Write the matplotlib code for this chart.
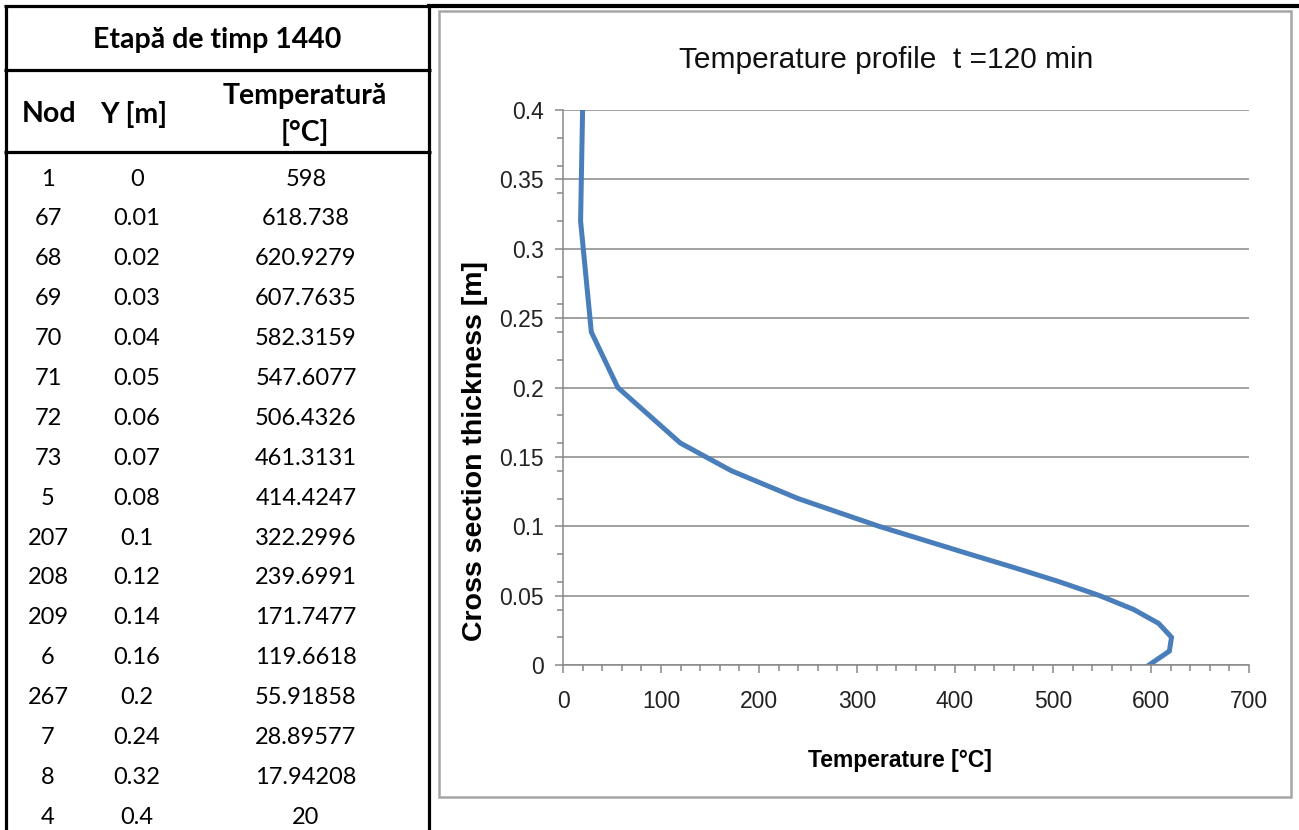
import matplotlib
matplotlib.use("Agg")
from matplotlib import pyplot as plt
from matplotlib.lines import Line2D
from matplotlib.patches import Rectangle
from matplotlib.ticker import MultipleLocator

# results at time step 1440
nodes = ["1", "67", "68", "69", "70", "71", "72", "73", "5", "207", "208", "209",
         "6", "267", "7", "8", "4"]
y_labels = ["0", "0.01", "0.02", "0.03", "0.04", "0.05", "0.06", "0.07", "0.08",
            "0.1", "0.12", "0.14", "0.16", "0.2", "0.24", "0.32", "0.4"]
temp_labels = ["598", "618.738", "620.9279", "607.7635", "582.3159", "547.6077",
               "506.4326", "461.3131", "414.4247", "322.2996", "239.6991",
               "171.7477", "119.6618", "55.91858", "28.89577", "17.94208", "20"]
y_m = [float(v) for v in y_labels]
temp_c = [float(v) for v in temp_labels]

W, H = 1299, 830
fig = plt.figure(figsize=(W / 100, H / 100), dpi=100)


def fx(px):
    return px / W


def fy(py):
    return 1 - py / H


def hline(x0, x1, y, color="black", lw=2.3):
    fig.add_artist(Line2D([fx(x0), fx(x1)], [fy(y), fy(y)], color=color, lw=lw,
                          solid_capstyle="butt"))


def vline(x, y0, y1, color="black", lw=2.3):
    fig.add_artist(Line2D([fx(x), fx(x)], [fy(y0), fy(y1)], color=color, lw=lw,
                          solid_capstyle="butt"))


# ---- table on the left ----
tfont = ["Lato", "DejaVu Sans"]
hline(4, 431, 6.5)
hline(4, 431, 70)
hline(4, 431, 152)
vline(6, 5, 830)
vline(429, 5, 830)

fig.text(fx(217), fy(40), "Etapă de timp 1440", family=tfont, fontweight="bold",
         fontsize=20.5, ha="center", va="center")
fig.text(fx(49), fy(114), "Nod", family=tfont, fontweight="bold", fontsize=20.5,
         ha="center", va="center")
fig.text(fx(134), fy(114), "Y [m]", family=tfont, fontweight="bold", fontsize=20.5,
         ha="center", va="center")
fig.text(fx(305), fy(96), "Temperatură", family=tfont, fontweight="bold",
         fontsize=20.5, ha="center", va="center")
fig.text(fx(305), fy(132), "[°C]", family=tfont, fontweight="bold", fontsize=20.5,
         ha="center", va="center")

for i, (n, yv, tv) in enumerate(zip(nodes, y_labels, temp_labels)):
    yy = 179 + i * 39.9
    fig.text(fx(48), fy(yy), n, family=tfont, fontsize=17, ha="center", va="center")
    fig.text(fx(137), fy(yy), yv, family=tfont, fontsize=17, ha="center", va="center")
    fig.text(fx(306), fy(yy), tv, family=tfont, fontsize=17, ha="center", va="center")

# ---- chart on the right ----
hline(427, 1299, 6.5, lw=3)
fig.add_artist(Rectangle((fx(439), fy(797)), fx(1291 - 439), (797 - 11) / H,
                         transform=fig.transFigure, fill=False,
                         edgecolor="#a6a6a6", lw=1.8))

cfont = ["Liberation Sans", "DejaVu Sans"]
ax = fig.add_axes([fx(563), fy(665), fx(1249 - 563), (665 - 110) / H])
ax.plot(temp_c, y_m, color="#4a7ebb", lw=3.6, solid_joinstyle="miter")
ax.set_xlim(0, 700)
ax.set_ylim(0, 0.4)
ax.xaxis.set_major_locator(MultipleLocator(100))
ax.xaxis.set_minor_locator(MultipleLocator(20))
ax.yaxis.set_major_locator(MultipleLocator(0.05))
ax.yaxis.set_minor_locator(MultipleLocator(0.02))
ax.yaxis.set_major_formatter(lambda v, p: f"{v:g}")
ax.grid(axis="y", which="major", color="#888888", lw=1.1)
ax.set_axisbelow(True)
for side in ["top", "right"]:
    ax.spines[side].set_visible(False)
for side in ["left", "bottom"]:
    ax.spines[side].set_color("#888888")
    ax.spines[side].set_linewidth(1.1)
ax.tick_params(which="major", direction="out", length=6, width=1.1, color="#888888",
               labelsize=16.5, labelcolor="#222222")
ax.tick_params(which="minor", direction="out", length=4.5, width=1.1, color="#888888")
ax.tick_params(axis="x", pad=12)
ax.tick_params(axis="y", pad=8)
for lab in ax.get_xticklabels() + ax.get_yticklabels():
    lab.set_family(cfont)

fig.text(fx(886), fy(60), "Temperature profile  t =120 min", family=cfont,
         fontsize=21.5, ha="center", va="center", color="#111111")
fig.text(fx(900), fy(760), "Temperature [°C]", family=cfont, fontweight="bold",
         fontsize=16.5, ha="center", va="center")
fig.text(fx(475), fy(451), "Cross section thickness [m]", family=cfont,
         fontweight="bold", fontsize=20.5, rotation=90, ha="center", va="center")

fig.savefig("out.png", dpi=100)
